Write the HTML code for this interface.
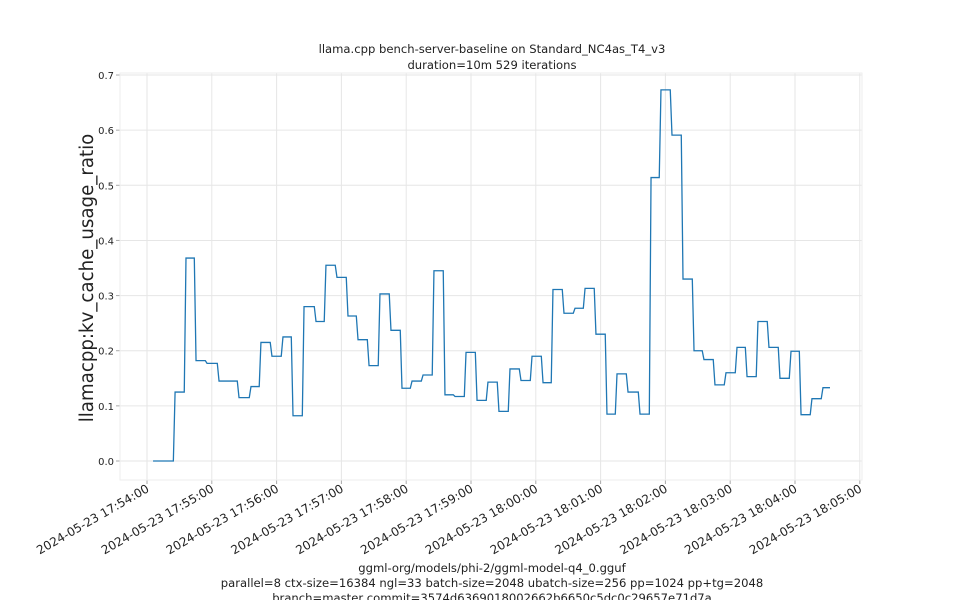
<!DOCTYPE html>
<html><head><meta charset="utf-8"><style>
body{margin:0;background:#fff;}
svg text{font-family:"DejaVu Sans","Liberation Sans",sans-serif;fill:#222;}
</style></head><body>
<svg id="chart" width="960" height="600">
<text x="492" y="53" font-size="11.6" text-anchor="middle">llama.cpp bench-server-baseline on Standard_NC4as_T4_v3</text>
<text x="492" y="69" font-size="11.6" text-anchor="middle">duration=10m 529 iterations</text>
<text transform="translate(93,278) rotate(-90)" font-size="18.2" text-anchor="middle">llamacpp:kv_cache_usage_ratio</text>
<text x="492" y="572" font-size="11.6" text-anchor="middle">ggml-org/models/phi-2/ggml-model-q4_0.gguf</text>
<text x="492" y="587" font-size="11.6" text-anchor="middle">parallel=8 ctx-size=16384 ngl=33 batch-size=2048 ubatch-size=256 pp=1024 pp+tg=2048</text>
<text x="492" y="602" font-size="11.6" text-anchor="middle">branch=master commit=3574d6369018002662b6650c5dc0c29657e71d7a</text>
<g id="grid"></g><g id="axes"></g><g id="series"></g>
</svg>
<script>
const times=[5.6,26,36.1,45.4,55.6,66.7,85.2,96.3,105.5,115.7,125.9,135.2,145.4,156.5,165.7,175.9,186.1,195.4,205.6,215.7,225.9,236.1,245.4,255.6,265.7,275.9,285.2,295.4,305.6,315.7,325.9,336.1,346.3,356.5,366.7,375.9,386.1,396.3,405.6,415.7,425.9,435.2,445.4,456.5,466.7,475.9,486.1,496.3,506.5,515.7,525.9,536.1,546.3,555.6,565.7,575.9,586.1,596.3,605.6,615.7,625.9];
const values=[0,0.125,0.368,0.182,0.177,0.145,0.115,0.135,0.215,0.19,0.225,0.082,0.28,0.253,0.355,0.333,0.263,0.22,0.173,0.303,0.237,0.132,0.145,0.156,0.345,0.12,0.117,0.197,0.11,0.143,0.09,0.167,0.146,0.19,0.142,0.311,0.268,0.277,0.313,0.23,0.085,0.158,0.125,0.085,0.514,0.673,0.591,0.33,0.2,0.184,0.138,0.16,0.206,0.153,0.253,0.206,0.15,0.199,0.084,0.113,0.133];
const endTime=632.4;
const yTicks=[0,0.1,0.2,0.3,0.4,0.5,0.6,0.7];
const xTickLabels=["2024-05-23 17:54:00","2024-05-23 17:55:00","2024-05-23 17:56:00","2024-05-23 17:57:00","2024-05-23 17:58:00","2024-05-23 17:59:00","2024-05-23 18:00:00","2024-05-23 18:01:00","2024-05-23 18:02:00","2024-05-23 18:03:00","2024-05-23 18:04:00","2024-05-23 18:05:00"];
const NS="http://www.w3.org/2000/svg";
const L=120,R=862,T=73,B=480;
function X(s){return 147+s*64.8/60;}
function Y(v){return 461-v*551.4;}
function mk(tag,attrs,parent){const e=document.createElementNS(NS,tag);for(const k in attrs)e.setAttribute(k,attrs[k]);document.getElementById(parent).appendChild(e);return e;}
yTicks.forEach(v=>{
 const g=mk('line',{x1:L,x2:R,y1:Y(v),y2:Y(v),stroke:'#e6e6e6','stroke-width':1},'grid');
 
 
 const tk=mk('line',{x1:L-4,x2:L,y1:Y(v),y2:Y(v),stroke:'#aaa'},'axes');
 
 
 const t=mk('text',{x:L-6,y:Y(v)+4,'font-size':10,'text-anchor':'end'},'axes');
 t.textContent=v.toFixed(1);
 
 
});
xTickLabels.forEach((lab,i)=>{
 const x=X(i*60);
 const g=mk('line',{x1:x,x2:x,y1:T,y2:B,stroke:'#e6e6e6'},'grid');
 
 
 const tk=mk('line',{x1:x,x2:x,y1:B,y2:B+4,stroke:'#aaa'},'axes');
 
 
 const t=mk('text',{transform:`translate(${x+3},${B+11}) rotate(-30)`,'font-size':12,'text-anchor':'end'},'axes');
 t.textContent=lab;
 
 
});
const fr=mk('rect',{x:L,y:T,width:R-L,height:B-T,fill:'none',stroke:'#eee'},'axes');


let pts=[];
for(let i=0;i<times.length;i++){
 const next=i<times.length-1?times[i+1]:endTime;
 pts.push([X(times[i]),Y(values[i])]);
 pts.push([X(next-1.6),Y(values[i])]);
}
pts[pts.length-1][0]=X(endTime);
const line=mk('polyline',{points:pts.map(p=>p.join(',')).join(' '),fill:'none',stroke:'#1f77b4','stroke-width':1.3},'series');


</script>
</body></html>
